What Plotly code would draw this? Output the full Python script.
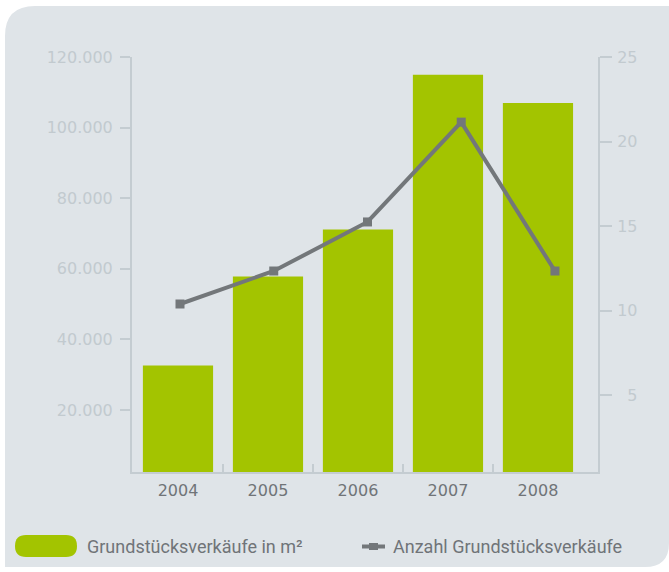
import plotly.graph_objects as go

# ---- data ----
years = [2004, 2005, 2006, 2007, 2008]
year_labels = ["2004", "2005", "2006", "2007", "2008"]
area_sqm = [32600, 57800, 71100, 115000, 107000]
sales_count = [10.4, 12.35, 15.25, 21.15, 12.35]
left_ticks = [20000, 40000, 60000, 80000, 100000, 120000]
left_tick_labels = ["20.000", "40.000", "60.000", "80.000", "100.000", "120.000"]
right_ticks = [5, 10, 15, 20, 25]
right_tick_labels = ["\u20075", "10", "15", "20", "25"]
bar_name = "Grundstücksverkäufe in m²"
line_name = "Anzahl Grundstücksverkäufe"

# ---- style ----
W, H = 669, 572
ML, MR, MT, MB = 132, 71, 57, 100
PW, PH = W - ML - MR, H - MT - MB
GREEN = "#a3c400"
LINE = "#73777a"
AXIS = "#c4ccd1"
TICKTXT = "#c2cacf"
XTXT = "#707478"
PANEL = "#dfe4e8"
TICKFONT = "DejaVu Sans"


def px(x):
    return (x - ML) / PW


def py(y):
    return (H - MB - y) / PH


fig = go.Figure()
fig.add_trace(go.Bar(x=years, y=area_sqm, name=bar_name, marker=dict(color=GREEN, line=dict(width=0)),
                     width=0.78, xaxis="x", yaxis="y"))
fig.add_trace(go.Scatter(x=years, y=sales_count, name=line_name, mode="lines+markers",
                         line=dict(color=LINE, width=4), marker=dict(symbol="square", size=9, color=LINE),
                         xaxis="x2", yaxis="y2"))

panel = (f"M {px(5)},{py(36)} Q {px(5)},{py(6)} {px(35)},{py(6)} "
         f"L {px(680)},{py(6)} L {px(680)},{py(543)} L {px(669)},{py(543)} "
         f"Q {px(669)},{py(567)} {px(645)},{py(567)} L {px(5)},{py(567)} Z")
r = 11
pill = (f"M {px(15 + r)},{py(535)} L {px(77 - r)},{py(535)} Q {px(77)},{py(535)} {px(77)},{py(546)} "
        f"Q {px(77)},{py(557)} {px(77 - r)},{py(557)} L {px(15 + r)},{py(557)} "
        f"Q {px(15)},{py(557)} {px(15)},{py(546)} Q {px(15)},{py(535)} {px(15 + r)},{py(535)} Z")
shapes = [
    dict(type="path", xref="paper", yref="paper", path=panel, fillcolor=PANEL, line=dict(width=0), layer="below"),
    dict(type="path", xref="paper", yref="paper", path=pill, fillcolor=GREEN, line=dict(width=0)),
    dict(type="line", xref="paper", yref="paper", x0=px(362), x1=px(385), y0=py(546.5), y1=py(546.5),
         line=dict(color=LINE, width=4)),
    dict(type="rect", xref="paper", yref="paper", x0=px(369), x1=px(378), y0=py(543), y1=py(550),
         fillcolor=LINE, line=dict(width=0)),
]

annotations = [
    dict(xref="paper", yref="paper", x=px(85), y=py(546.5), text=bar_name, showarrow=False,
         xanchor="left", yanchor="middle", font=dict(family="Roboto", size=18, color=XTXT)),
    dict(xref="paper", yref="paper", x=px(391), y=py(546.5), text=line_name, showarrow=False,
         xanchor="left", yanchor="middle", font=dict(family="Roboto", size=18, color=XTXT)),
]

fig.update_layout(
    width=W, height=H,
    margin=dict(l=ML, r=MR, t=MT, b=MB),
    paper_bgcolor="white", plot_bgcolor="rgba(0,0,0,0)",
    showlegend=False,
    shapes=shapes, annotations=annotations,
    xaxis=dict(range=[2003.489, 2008.667], tickmode="array", tickvals=years, ticktext=year_labels,
               showgrid=False, zeroline=False, showline=True, linecolor=AXIS, linewidth=2,
               ticks="", tickfont=dict(family=TICKFONT, size=16, color=XTXT), ticklabelstandoff=3,
               minor=dict(tickmode="array", tickvals=[2004.5, 2005.5, 2006.5, 2007.5], ticks="inside",
                          ticklen=8, tickwidth=2, tickcolor=AXIS, showgrid=False)),
    xaxis2=dict(range=[2003.488, 2008.459], overlaying="x", visible=False),
    yaxis=dict(range=[2440, 120000], tickmode="array", tickvals=left_ticks, ticktext=left_tick_labels,
               showgrid=False, zeroline=False, showline=True, linecolor=AXIS, linewidth=2,
               ticks="outside", ticklen=10, tickwidth=2, tickcolor=AXIS,
               tickfont=dict(family=TICKFONT, size=16, color=TICKTXT), ticklabelstandoff=4),
    yaxis2=dict(range=[0.47, 25], overlaying="y", side="right", tickmode="array", tickvals=right_ticks,
                ticktext=right_tick_labels, showgrid=False, zeroline=False, showline=True, linecolor=AXIS,
                linewidth=2, ticks="outside", ticklen=12, tickwidth=2, tickcolor=AXIS,
                tickfont=dict(family=TICKFONT, size=16, color=TICKTXT), ticklabelstandoff=2),
)

fig.write_html("out.html", config={"displayModeBar": False},
               post_script="document.body.style.margin='0';document.body.style.overflow='hidden';")
